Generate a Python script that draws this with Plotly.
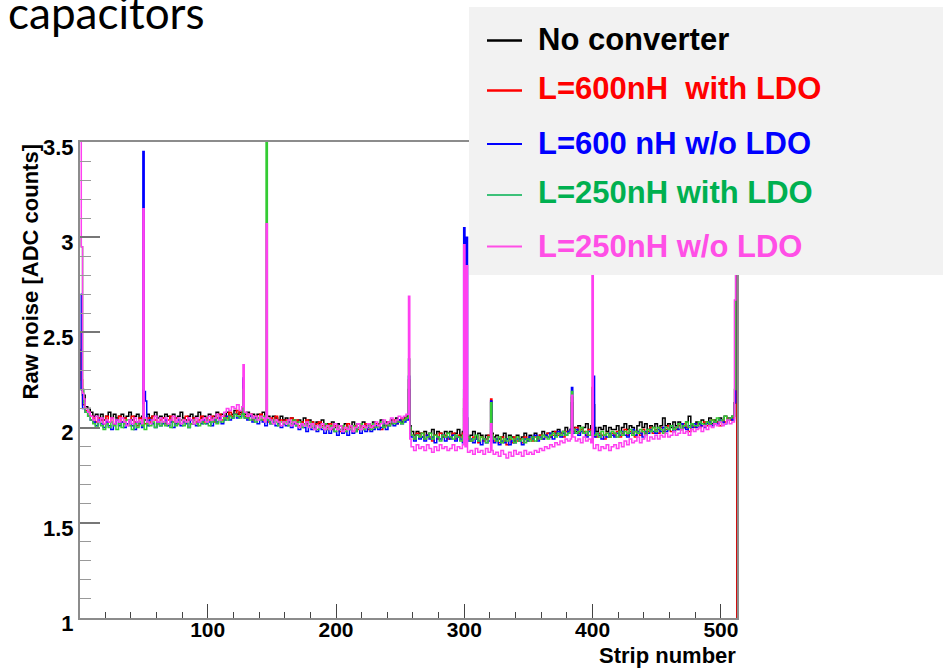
import plotly.graph_objects as go

# ---------------- data ----------------
STRIPS_PER_BIN = 2          # base noise level given per pair of strips
N_STRIPS = 512

series_names = ["No converter", "L=600nH\u00a0 with LDO", "L=600 nH w/o LDO",
                "L=250nH with LDO", "L=250nH w/o LDO"]
line_colors = ["#000000", "#ff0000", "#0000ff", "#33cc33", "#ff40f0"]
legend_line_colors = ["#000000", "#ff0000", "#0000ff", "#00b050", "#ff4fe6"]
legend_text_colors = ["#000000", "#ff0000", "#0000ff", "#00b050", "#ff4fe6"]

black_base = [
    2.17, 2.17, 2.11, 2.10, 2.08, 2.06, 2.07, 2.05, 2.07, 2.04, 2.06, 2.08, 2.05, 2.07, 2.05, 2.06,
    2.07, 2.05, 2.06, 2.08, 2.04, 2.06, 2.07, 2.05, 2.06, 2.04, 2.07, 2.05, 2.06, 2.08, 2.05, 2.06,
    2.05, 2.07, 2.06, 2.04, 2.07, 2.05, 2.06, 2.08, 2.05, 2.04, 2.06, 2.07, 2.05, 2.06, 2.08, 2.05,
    2.06, 2.04, 2.07, 2.05, 2.06, 2.08, 2.05, 2.07, 2.06, 2.08, 2.06, 2.07, 2.09, 2.07, 2.08, 2.07,
    2.07, 2.08, 2.06, 2.07, 2.05, 2.07, 2.06, 2.08, 2.05, 2.06, 2.04, 2.06, 2.05, 2.04, 2.06, 2.04,
    2.05, 2.03, 2.05, 2.04, 2.02, 2.04, 2.03, 2.05, 2.02, 2.04, 2.03, 2.01, 2.03, 2.02, 2.04, 2.01,
    2.02, 2.01, 2.03, 2.00, 2.02, 2.01, 1.99, 2.02, 2.00, 2.01, 2.03, 2.00, 2.02, 2.01, 2.03, 2.01,
    2.02, 2.00, 2.03, 2.01, 2.02, 2.04, 2.01, 2.03, 2.02, 2.04, 2.03, 2.05, 2.04, 2.03, 2.05, 2.06,
    2.01, 1.98, 1.96, 1.98, 1.97, 1.95, 1.98, 1.96, 1.97, 1.99, 1.96, 1.98, 1.97, 1.95, 1.98, 1.97,
    1.98, 1.96, 1.97, 1.99, 1.96, 1.98, 1.97, 1.95, 1.96, 1.98, 1.95, 1.97, 1.96, 1.94, 1.96, 1.95,
    1.97, 1.95, 1.96, 1.94, 1.95, 1.97, 1.94, 1.96, 1.95, 1.93, 1.96, 1.94, 1.95, 1.97, 1.94, 1.96,
    1.95, 1.97, 1.95, 1.96, 1.98, 1.96, 1.97, 1.95, 1.98, 1.97, 1.99, 1.97, 1.98, 2.00, 1.98, 1.99,
    2.00, 1.98, 2.01, 1.99, 2.00, 2.02, 1.99, 2.01, 2.00, 1.98, 2.00, 1.99, 2.01, 1.98, 2.00, 1.99,
    1.99, 2.01, 1.98, 2.00, 2.02, 1.99, 2.01, 2.00, 1.98, 2.01, 2.03, 2.00, 2.02, 1.99, 2.01, 2.00,
    2.02, 2.00, 2.01, 2.05, 2.01, 2.02, 2.00, 2.03, 2.01, 2.03, 2.02, 2.00, 2.03, 2.06, 2.02, 2.01,
    2.03, 2.02, 2.04, 2.02, 2.03, 2.05, 2.02, 2.04, 2.03, 2.05, 2.04, 2.06, 2.04, 2.05, 2.06, 2.06,
]
red_base = [
    2.14, 2.12, 2.09, 2.08, 2.06, 2.05, 2.03, 2.05, 2.04, 2.02, 2.06, 2.03, 2.05, 2.02, 2.04, 2.06,
    2.03, 2.05, 2.02, 2.04, 2.06, 2.03, 2.01, 2.05, 2.04, 2.02, 2.05, 2.03, 2.06, 2.04, 2.02, 2.04,
    2.05, 2.02, 2.04, 2.06, 2.03, 2.05, 2.02, 2.04, 2.03, 2.06, 2.04, 2.02, 2.05, 2.03, 2.04, 2.06,
    2.03, 2.05, 2.04, 2.06, 2.03, 2.05, 2.07, 2.04, 2.06, 2.05, 2.08, 2.06, 2.07, 2.09, 2.07, 2.08,
    2.06, 2.05, 2.07, 2.04, 2.06, 2.05, 2.07, 2.04, 2.06, 2.03, 2.05, 2.04, 2.06, 2.03, 2.04, 2.02,
    2.04, 2.03, 2.05, 2.02, 2.04, 2.01, 2.03, 2.02, 2.04, 2.01, 2.03, 2.00, 2.02, 2.03, 2.01, 2.02,
    2.00, 2.02, 1.99, 2.01, 2.00, 1.98, 2.01, 1.99, 2.02, 2.00, 1.98, 2.01, 1.99, 2.01, 2.00, 2.02,
    1.99, 2.01, 2.00, 2.02, 2.01, 1.99, 2.02, 2.01, 2.03, 2.02, 2.04, 2.02, 2.03, 2.05, 2.04, 2.05,
    1.99, 1.96, 1.94, 1.97, 1.95, 1.97, 1.94, 1.96, 1.95, 1.93, 1.96, 1.94, 1.97, 1.95, 1.96, 1.94,
    1.95, 1.97, 1.94, 1.96, 1.95, 1.97, 1.96, 1.94, 1.93, 1.95, 1.94, 1.92, 1.95, 1.93, 1.94, 1.96,
    1.96, 1.93, 1.94, 1.92, 1.95, 1.93, 1.91, 1.94, 1.92, 1.95, 1.93, 1.94, 1.92, 1.95, 1.93, 1.94,
    1.93, 1.95, 1.94, 1.96, 1.94, 1.95, 1.97, 1.95, 1.96, 1.98, 1.96, 1.97, 1.95, 1.98, 1.97, 1.99,
    1.98, 2.00, 1.97, 1.99, 1.98, 1.96, 1.99, 1.98, 1.97, 1.95, 1.97, 1.96, 1.94, 1.97, 1.95, 1.97,
    1.96, 1.98, 1.95, 1.97, 1.99, 1.96, 1.98, 1.97, 1.95, 1.98, 1.96, 1.99, 1.97, 1.98, 2.00, 1.97,
    1.99, 1.97, 2.00, 1.98, 1.99, 2.01, 1.98, 2.00, 1.99, 2.01, 1.99, 2.02, 2.00, 1.98, 2.01, 2.00,
    2.02, 2.00, 2.01, 2.03, 2.01, 2.02, 2.04, 2.02, 2.03, 2.01, 2.04, 2.03, 2.05, 2.04, 2.05, 2.06,
]
blue_base = [
    2.12, 2.10, 2.08, 2.06, 2.04, 2.03, 2.01, 2.04, 2.02, 2.00, 2.03, 2.01, 1.99, 2.02, 2.04, 2.01,
    2.03, 2.00, 2.02, 2.04, 2.01, 1.99, 2.03, 2.02, 2.00, 2.03, 2.01, 2.04, 2.02, 2.00, 2.03, 2.01,
    2.02, 2.04, 2.01, 2.03, 2.00, 2.02, 2.04, 2.01, 2.03, 2.02, 2.00, 2.04, 2.02, 2.01, 2.03, 2.02,
    2.04, 2.02, 2.03, 2.01, 2.04, 2.03, 2.05, 2.02, 2.04, 2.06, 2.04, 2.05, 2.07, 2.05, 2.06, 2.07,
    2.05, 2.04, 2.06, 2.03, 2.05, 2.02, 2.04, 2.03, 2.01, 2.04, 2.02, 2.03, 2.01, 2.02, 2.00, 2.02,
    2.01, 2.03, 2.00, 2.02, 2.01, 1.99, 2.02, 2.00, 1.98, 2.01, 1.99, 2.00, 1.98, 2.00, 1.99, 1.97,
    1.99, 1.97, 2.00, 1.98, 1.96, 1.99, 1.97, 1.98, 1.96, 1.99, 1.97, 1.98, 2.00, 1.97, 1.99, 1.98,
    2.00, 1.98, 1.99, 2.01, 1.99, 2.00, 2.02, 1.99, 2.01, 2.03, 2.01, 2.02, 2.04, 2.02, 2.03, 2.04,
    1.97, 1.95, 1.93, 1.96, 1.94, 1.95, 1.93, 1.96, 1.94, 1.95, 1.92, 1.95, 1.94, 1.96, 1.93, 1.95,
    1.94, 1.96, 1.93, 1.95, 1.94, 1.92, 1.95, 1.93, 1.94, 1.92, 1.94, 1.93, 1.91, 1.94, 1.92, 1.93,
    1.95, 1.92, 1.94, 1.91, 1.93, 1.92, 1.94, 1.91, 1.93, 1.92, 1.94, 1.93, 1.91, 1.94, 1.93, 1.95,
    1.94, 1.96, 1.93, 1.95, 1.94, 1.96, 1.95, 1.97, 1.94, 1.96, 1.98, 1.95, 1.97, 1.96, 1.98, 1.99,
    1.97, 1.99, 1.96, 1.98, 1.97, 1.95, 1.98, 1.96, 1.95, 1.97, 1.96, 1.94, 1.96, 1.95, 1.97, 1.96,
    1.95, 1.97, 1.96, 1.98, 1.96, 1.95, 1.97, 1.99, 1.96, 1.98, 1.97, 1.95, 1.98, 1.97, 1.99, 1.98,
    1.97, 1.99, 1.98, 2.00, 1.98, 1.99, 2.01, 1.98, 2.00, 1.99, 2.02, 2.00, 1.99, 2.01, 2.00, 2.02,
    2.00, 2.02, 2.01, 2.00, 2.02, 2.03, 2.01, 2.03, 2.02, 2.04, 2.03, 2.02, 2.04, 2.05, 2.04, 2.07,
]
green_base = [
    2.13, 2.13, 2.08, 2.06, 2.04, 2.02, 2.00, 2.03, 2.01, 1.99, 2.02, 2.00, 2.03, 2.01, 1.99, 2.02,
    2.00, 2.02, 2.04, 2.01, 1.99, 2.02, 2.00, 2.03, 2.01, 1.99, 2.02, 2.01, 2.03, 2.00, 2.02, 2.01,
    2.03, 2.01, 2.02, 2.00, 2.03, 2.01, 2.02, 2.04, 2.01, 2.03, 2.00, 2.02, 2.04, 2.02, 2.01, 2.03,
    2.02, 2.04, 2.01, 2.03, 2.05, 2.02, 2.04, 2.03, 2.05, 2.04, 2.06, 2.05, 2.07, 2.06, 2.05, 2.07,
    2.05, 2.06, 2.04, 2.05, 2.03, 2.05, 2.04, 2.06, 2.03, 2.04, 2.02, 2.04, 2.03, 2.01, 2.03, 2.02,
    2.03, 2.01, 2.02, 2.04, 2.01, 2.03, 2.00, 2.02, 2.01, 2.03, 2.00, 2.01, 1.99, 2.01, 2.00, 2.02,
    1.99, 2.01, 2.00, 1.98, 2.00, 1.99, 2.01, 1.98, 2.00, 1.99, 2.01, 1.98, 2.00, 2.02, 1.99, 2.00,
    2.01, 1.99, 2.02, 2.00, 2.01, 2.03, 2.00, 2.02, 2.01, 2.03, 2.02, 2.04, 2.03, 2.02, 2.04, 2.05,
    2.00, 1.96, 1.94, 1.96, 1.95, 1.97, 1.94, 1.95, 1.97, 1.94, 1.96, 1.95, 1.93, 1.96, 1.95, 1.97,
    1.95, 1.94, 1.96, 1.95, 1.93, 1.96, 1.94, 1.95, 1.93, 1.94, 1.96, 1.93, 1.95, 1.94, 1.92, 1.95,
    1.96, 1.94, 1.93, 1.95, 1.92, 1.94, 1.93, 1.95, 1.94, 1.92, 1.95, 1.93, 1.94, 1.92, 1.94, 1.93,
    1.95, 1.93, 1.95, 1.94, 1.96, 1.95, 1.94, 1.96, 1.97, 1.95, 1.97, 1.96, 1.98, 1.96, 1.97, 1.98,
    1.99, 1.97, 1.98, 2.00, 1.97, 1.98, 1.96, 1.98, 1.96, 1.97, 1.95, 1.98, 1.96, 1.97, 1.95, 1.98,
    1.97, 1.95, 1.98, 1.96, 1.98, 1.97, 1.99, 1.96, 1.98, 1.97, 1.99, 1.98, 1.96, 1.99, 1.98, 2.00,
    1.98, 2.00, 1.99, 1.97, 2.00, 1.99, 2.01, 1.99, 2.00, 2.02, 1.99, 2.01, 2.03, 2.00, 2.02, 2.01,
    2.01, 2.03, 2.02, 2.01, 2.03, 2.02, 2.04, 2.03, 2.05, 2.03, 2.04, 2.06, 2.04, 2.05, 2.06, 2.07,
]
pink_base = [
    2.15, 2.15, 2.10, 2.08, 2.06, 2.04, 2.06, 2.03, 2.05, 2.02, 2.04, 2.03, 2.05, 2.02, 2.04, 2.03,
    2.05, 2.03, 2.01, 2.04, 2.02, 2.05, 2.03, 2.04, 2.02, 2.05, 2.03, 2.02, 2.04, 2.06, 2.03, 2.05,
    2.03, 2.05, 2.02, 2.04, 2.06, 2.03, 2.05, 2.02, 2.04, 2.03, 2.05, 2.04, 2.02, 2.05, 2.03, 2.04,
    2.05, 2.03, 2.06, 2.04, 2.05, 2.07, 2.04, 2.06, 2.08, 2.10, 2.09, 2.11, 2.10, 2.12, 2.09, 2.11,
    2.08, 2.06, 2.07, 2.05, 2.06, 2.04, 2.06, 2.05, 2.03, 2.05, 2.04, 2.02, 2.04, 2.03, 2.01, 2.03,
    2.02, 2.04, 2.01, 2.03, 2.02, 2.00, 2.02, 2.01, 2.03, 2.00, 2.02, 1.99, 2.01, 2.00, 2.02, 1.99,
    2.01, 1.99, 2.00, 2.02, 1.99, 2.01, 1.98, 2.00, 1.99, 2.01, 1.98, 2.00, 2.02, 1.99, 2.01, 2.00,
    2.02, 2.00, 2.01, 2.03, 2.01, 2.02, 2.04, 2.02, 2.03, 2.05, 2.03, 2.04, 2.06, 2.05, 2.06, 2.07,
    1.94, 1.90, 1.88, 1.91, 1.89, 1.90, 1.88, 1.91, 1.89, 1.87, 1.90, 1.88, 1.91, 1.89, 1.90, 1.88,
    1.89, 1.91, 1.88, 1.90, 1.89, 1.91, 1.90, 1.87, 1.88, 1.86, 1.89, 1.87, 1.88, 1.86, 1.89, 1.87,
    1.88, 1.86, 1.87, 1.85, 1.88, 1.86, 1.84, 1.87, 1.85, 1.88, 1.86, 1.87, 1.85, 1.88, 1.86, 1.87,
    1.86, 1.88, 1.87, 1.89, 1.88, 1.90, 1.89, 1.91, 1.90, 1.92, 1.91, 1.93, 1.92, 1.94, 1.93, 1.94,
    1.95, 1.93, 1.94, 1.92, 1.95, 1.93, 1.94, 1.92, 1.89, 1.91, 1.88, 1.90, 1.89, 1.91, 1.88, 1.90,
    1.91, 1.89, 1.92, 1.90, 1.93, 1.91, 1.94, 1.92, 1.93, 1.95, 1.92, 1.94, 1.96, 1.93, 1.95, 1.94,
    1.96, 1.94, 1.96, 1.95, 1.97, 1.95, 1.96, 1.98, 1.96, 1.97, 1.99, 1.97, 1.98, 1.96, 1.99, 1.98,
    1.99, 2.00, 1.98, 2.01, 1.99, 2.01, 2.00, 2.02, 2.01, 2.03, 2.01, 2.02, 2.04, 2.02, 2.03, 2.05,
]

# single-strip values (strip number -> raw noise); strip 513 = empty bin past the end
black_spikes = {1: 2.41, 2: 2.20, 3: 2.17, 50: 2.20, 128: 2.22, 257: 2.20, 300: 2.10,
                302: 2.05, 384: 2.13, 400: 2.20, 401: 2.12, 511: 2.13, 512: 3.60, 513: 0.0}
red_spikes = {1: 2.50, 2: 2.25, 50: 2.15, 128: 2.25, 257: 2.25, 300: 2.15, 321: 2.15,
              384: 2.16, 400: 2.21, 511: 2.13, 512: 3.60, 513: 0.0}
blue_spikes = {1: 2.70, 2: 2.20, 50: 3.45, 51: 2.19, 52: 2.14, 128: 2.26, 257: 2.27,
               300: 3.05, 302: 3.00, 321: 2.14, 384: 2.21, 401: 2.27, 511: 2.13, 512: 3.60}
green_spikes = {1: 3.00, 2: 2.95, 3: 2.20, 50: 2.12, 128: 2.20, 146: 3.60, 257: 2.36,
                300: 2.20, 321: 2.13, 384: 2.19, 400: 2.20, 511: 2.20, 512: 3.60}
pink_spikes = {1: 3.60, 2: 2.95, 3: 2.18, 50: 3.15, 128: 2.33, 146: 3.07, 257: 2.69,
               300: 2.96, 302: 2.85, 321: 2.02, 384: 2.17, 400: 2.90, 511: 2.67, 512: 3.60}

bases = [black_base, red_base, blue_base, green_base, pink_base]
spikes = [black_spikes, red_spikes, blue_spikes, green_spikes, pink_spikes]

x_ticks = [100, 200, 300, 400, 500]
y_ticks = [1, 1.5, 2, 2.5, 3, 3.5]

# ---------------- figure ----------------
W, H = 943, 669
L, R, T, B = 80, 737, 142, 618   # plot area in pixels
pw, ph = R - L, B - T


def px(xp):
    return (xp - L) / pw


def py(yp):
    return (B - yp) / ph


def strip_series(base, spk):
    vals = {}
    for i, v in enumerate(base):
        for j in range(STRIPS_PER_BIN):
            vals[i * STRIPS_PER_BIN + j + 1] = v
    vals.update(spk)
    xs = sorted(vals)
    return xs, [vals[s] for s in xs]


fig = go.Figure()
n_series = len(series_names)
for k, (name, col, base, spk) in enumerate(zip(series_names, line_colors, bases, spikes)):
    xs, ys = strip_series(base, spk)
    # the last (top-most) series sits on the overlaid x-axis that carries the tick labels
    fig.add_trace(go.Scatter(x=xs, y=ys, mode="lines", name=name,
                             xaxis="x2" if k == n_series - 1 else "x",
                             line=dict(color=col, width=1.5, shape="hvh"),
                             showlegend=False))

axis_font = dict(family="Liberation Sans, Arial, sans-serif", size=21, color="#000000",
                 weight="bold")

fig.update_layout(
    xaxis=dict(range=[0.5, 512.5], tickvals=x_ticks, ticks="inside", ticklen=14,
               tickwidth=1.2, tickcolor="#444444", showgrid=False, zeroline=False,
               showline=True, linecolor="#8c8c8c", linewidth=2, mirror=True,
               showticklabels=False,
               minor=dict(dtick=20, ticks="inside", ticklen=6, tickwidth=1.2,
                          tickcolor="#444444", showgrid=False)),
    xaxis2=dict(range=[0.5, 512.5], tickvals=x_ticks, overlaying="x", anchor="free",
                position=py(615), side="bottom", ticks="", showline=False,
                showgrid=False, zeroline=False, tickfont=axis_font),
    yaxis=dict(range=[1, 3.5], tickvals=y_ticks, ticks="inside", ticklen=20,
               tickwidth=1.5, tickcolor="#777777", showgrid=False, zeroline=False,
               showline=True, linecolor="#8c8c8c", linewidth=2, mirror=True,
               tickfont=dict(axis_font, size=22), ticklabelshift=5,
               minor=dict(dtick=0.1, ticks="inside", ticklen=11, tickwidth=1.2,
                          tickcolor="#999999", showgrid=False)),
)

annotations = [
    dict(text="capacitors", x=px(6), y=py(12), xref="paper", yref="paper",
         xanchor="left", yanchor="middle", showarrow=False,
         font=dict(family="Lato, Open Sans, sans-serif", size=44, color="#000000")),
    dict(text="<b>Raw noise [ADC counts]</b>", x=px(30), y=py(143), xref="paper",
         yref="paper", xanchor="center", yanchor="top", textangle=-90, showarrow=False,
         font=dict(family="Liberation Sans, Arial, sans-serif", size=22, color="#000000")),
    dict(text="<b>Strip number</b>", x=px(738), y=py(655), xref="paper", yref="paper",
         xanchor="right", yanchor="middle", showarrow=False,
         font=dict(family="Liberation Sans, Arial, sans-serif", size=22, color="#000000")),
]

shapes = [dict(type="rect", xref="paper", yref="paper", x0=px(469), x1=px(960),
               y0=py(275), y1=py(7), fillcolor="#f2f2f2", line=dict(width=0),
               layer="above")]

legend_text_y = [39, 89, 143, 193, 246]
legend_line_y = [40.5, 90.5, 144, 195, 246.5]
legend_line_w = [2.5, 2.5, 1.8, 1.6, 1.8]
for name, tcol, lcol, ty, ly, lw in zip(series_names, legend_text_colors, legend_line_colors,
                                        legend_text_y, legend_line_y, legend_line_w):
    shapes.append(dict(type="line", xref="paper", yref="paper", x0=px(487), x1=px(522),
                       y0=py(ly), y1=py(ly), line=dict(color=lcol, width=lw), layer="above"))
    annotations.append(dict(text="<b>" + name + "</b>", x=px(536), y=py(ty), xref="paper",
                            yref="paper", xanchor="left", yanchor="middle", showarrow=False,
                            font=dict(family="Liberation Sans, Arial, sans-serif", size=31,
                                      color=tcol)))

fig.update_layout(width=W, height=H, margin=dict(l=L, r=W - R, t=T, b=H - B),
                  paper_bgcolor="#ffffff", plot_bgcolor="#ffffff",
                  annotations=annotations, shapes=shapes, showlegend=False)

fig.write_html("out.html")
